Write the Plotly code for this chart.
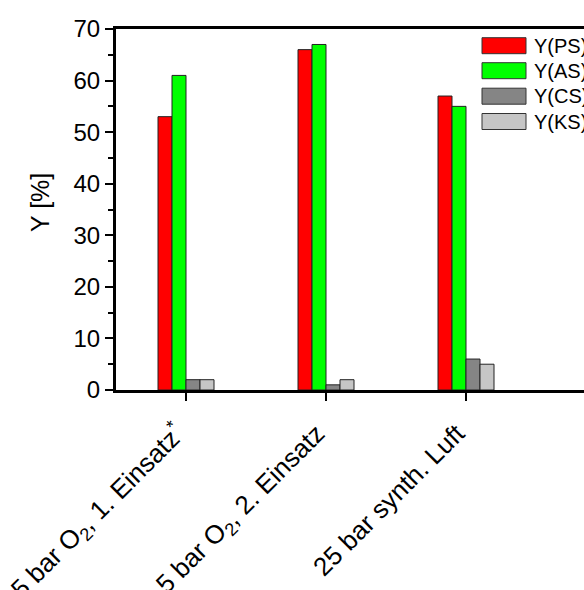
import plotly.graph_objects as go

# Conditions (category labels) and yields per product
categories = [
    "5 bar O<sub>2</sub>, 1. Einsatz<sup>*</sup>",
    "5 bar O<sub>2</sub>, 2. Einsatz",
    "25 bar synth. Luft",
]
series_names = ["Y(PS)", "Y(AS)", "Y(CS)", "Y(KS)"]
y_ps = [53, 66, 57]
y_as = [61, 67, 55]
y_cs = [2, 1, 6]
y_ks = [2, 2, 5]
series_values = [y_ps, y_as, y_cs, y_ks]
series_colors = ["#FF0000", "#00FF00", "#858585", "#C6C6C6"]

W, H = 584, 590
ML, MT, MB, MR = 116, 29, 200, 0
PW, PH = W - ML - MR, H - MT - MB
FONT = "Liberation Sans, Arial, sans-serif"

fig = go.Figure()
xs = list(range(len(categories)))
for name, vals, col in zip(series_names, series_values, series_colors):
    fig.add_trace(go.Bar(
        x=xs, y=vals, name=name,
        marker=dict(color=col, line=dict(color="#222222", width=1)),
        showlegend=False,
    ))

# category spacing is 140 px; left edge half a category before the first group
x0 = -0.5
x1 = x0 + PW / 140.0

fig.update_layout(
    width=W, height=H,
    margin=dict(l=ML, r=MR, t=MT, b=MB, pad=0),
    paper_bgcolor="white", plot_bgcolor="white",
    barmode="group", bargap=0.6, bargroupgap=0,
    font=dict(family=FONT, size=24, color="black"),
    xaxis=dict(
        range=[x0, x1], tickmode="array", tickvals=xs, ticktext=categories,
        tickangle=-45, ticks="outside", ticklen=8, tickwidth=2, tickcolor="black",
        ticklabelshift=-9, ticklabelstandoff=7,
        showline=True, linewidth=3, linecolor="black", mirror=True,
        showgrid=False, zeroline=False, automargin=False,
        tickfont=dict(size=26),
    ),
    yaxis=dict(
        range=[0, 70], dtick=10, tick0=0, ticks="outside", ticklen=8,
        tickwidth=2, tickcolor="black",
        minor=dict(dtick=5, ticks="outside", ticklen=5, tickwidth=2, tickcolor="black"),
        showline=True, linewidth=3, linecolor="black", mirror=False,
        showgrid=False, zeroline=False, automargin=False,
        tickfont=dict(size=24),
    ),
)


def px_x(p):
    return (p - ML) / PW


def px_y(p):
    return (H - MB - p) / PH


# y-axis title
fig.add_annotation(
    x=px_x(40), y=px_y(203), xref="paper", yref="paper",
    text="Y [%]", textangle=-90, showarrow=False,
    font=dict(size=25), xanchor="center", yanchor="middle",
)

# legend: wide swatches with labels
row_centers = [45.7, 70.7, 96.2, 121.5]
for name, col, yc in zip(series_names, series_colors, row_centers):
    fig.add_shape(
        type="rect", xref="paper", yref="paper",
        x0=px_x(482), x1=px_x(526), y0=px_y(yc - 8), y1=px_y(yc + 8),
        fillcolor=col, line=dict(color="#333333", width=1),
    )
    fig.add_annotation(
        x=px_x(532), y=px_y(yc), xref="paper", yref="paper",
        text=name, showarrow=False, xanchor="left", yanchor="middle",
        font=dict(size=20),
    )

fig.write_html("out.html")
